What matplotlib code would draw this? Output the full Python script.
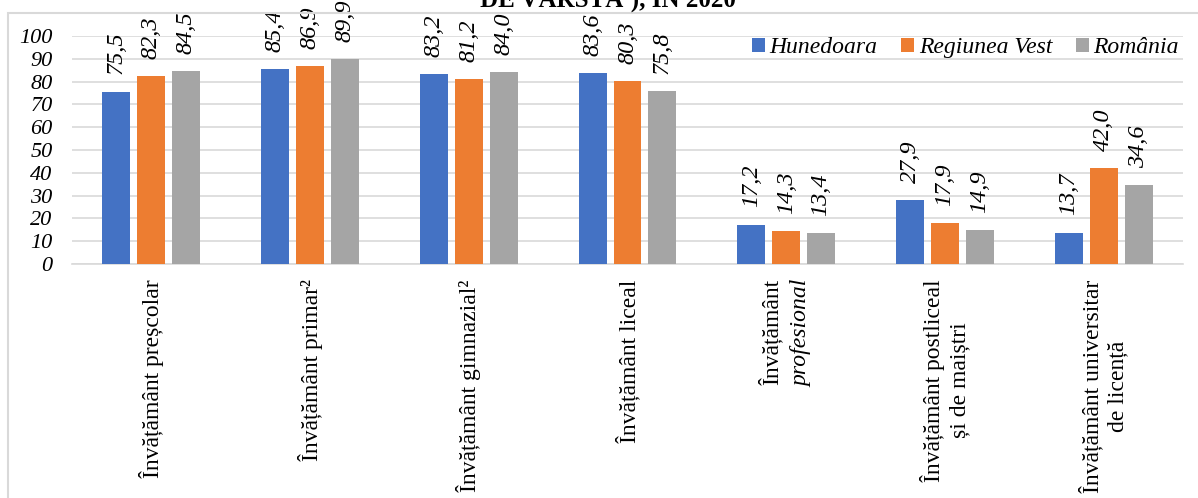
import numpy as np
import matplotlib.pyplot as plt
from matplotlib.patches import Rectangle

categories = ["Învățământ preșcolar", "Învățământ primar²", "Învățământ gimnazial²",
              "Învățământ liceal", "Învățământ\nprofesional",
              "Învățământ postliceal\nși de maiștri", "Învățământ universitar\nde licență"]
series_names = ["Hunedoara", "Regiunea Vest", "România"]
hunedoara = [75.5, 85.4, 83.2, 83.6, 17.2, 27.9, 13.7]
regiunea_vest = [82.3, 86.9, 81.2, 80.3, 14.3, 17.9, 42.0]
romania = [84.5, 89.9, 84.0, 75.8, 13.4, 14.9, 34.6]
colors = ["#4472C4", "#ED7D31", "#A5A5A5"]
yticks = [0, 10, 20, 30, 40, 50, 60, 70, 80, 90, 100]

plt.rcParams['font.family'] = ['Liberation Serif', 'DejaVu Serif']

fig = plt.figure(figsize=(11.98, 4.98), dpi=100)
ax = fig.add_axes([72 / 1198, 1 - 264 / 498, (1183 - 72) / 1198, (264 - 36) / 498])

x = np.arange(len(categories))
width = 0.176
offsets = [-0.22, 0, 0.22]
for vals, name, col, off in zip([hunedoara, regiunea_vest, romania], series_names, colors, offsets):
    bars = ax.bar(x + off, vals, width, color=col, label=name, zorder=3)
    for b, v in zip(bars, vals):
        ax.annotate(f"{v:.1f}".replace(".", ","), (b.get_x() + b.get_width() / 2, v),
                    xytext=(0, 12.5), textcoords="offset points", rotation=90,
                    ha="center", va="bottom", fontsize=17.5, style="italic",
                    annotation_clip=False)

ax.set_xlim(-0.5, len(categories) - 0.5)
ax.set_ylim(0, 100)
ax.set_yticks(yticks)
ax.set_yticklabels([str(t) for t in yticks], fontsize=16, style="italic")
ax.yaxis.grid(True, color="#d9d9d9", linewidth=1.2, zorder=0)
ax.tick_params(length=0)
ax.tick_params(axis="y", pad=14)
for s in ["top", "right", "left"]:
    ax.spines[s].set_visible(False)
ax.spines["bottom"].set_color("#d9d9d9")
ax.spines["bottom"].set_linewidth(1.2)

ax.set_xticks(x)
ticklabels = [c if i != 4 else "" for i, c in enumerate(categories)]
ax.set_xticklabels(ticklabels, rotation=90, fontsize=17, ma="center", linespacing=1.25)
ax.tick_params(axis="x", pad=11)

# label with italic second line
first, second = categories[4].split("\n")
ax.annotate(first, (4, 0), xycoords=("data", "axes fraction"), xytext=(-11.5, -11),
            textcoords="offset points", rotation=90, ha="center", va="top", fontsize=17)
ax.annotate(second, (4, 0), xycoords=("data", "axes fraction"), xytext=(11.5, -11),
            textcoords="offset points", rotation=90, ha="center", va="top", fontsize=17,
            style="italic")

ax.legend(loc="upper right", bbox_to_anchor=(1.005, 1.035), ncol=3, frameon=False,
          prop={"size": 17, "style": "italic"}, handlelength=0.55, handleheight=0.55,
          handletextpad=0.2, columnspacing=1.0, borderaxespad=0.0)

fig.text(608 / 1198, 1 - 7 / 498, "DE VÂRSTĂ¹), ÎN 2020", ha="center", va="baseline",
         fontsize=18, fontweight="bold")
fig.patches.append(Rectangle((7.5 / 1198, -0.1), 1.1, 1.1 - 13 / 498,
                             transform=fig.transFigure, fill=False,
                             edgecolor="#d9d9d9", linewidth=1.5))

fig.savefig("out.png", dpi=100)
